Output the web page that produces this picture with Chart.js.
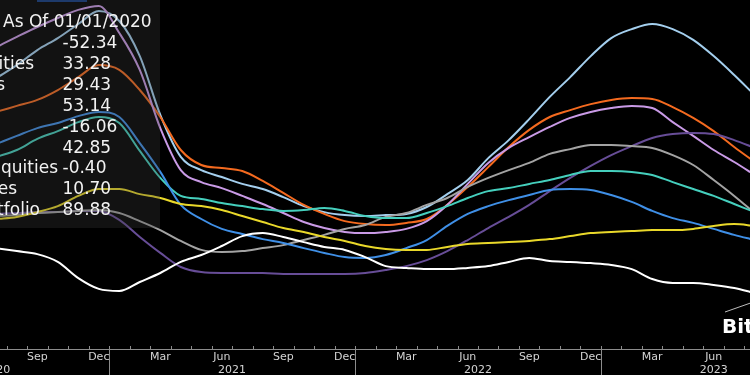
<!DOCTYPE html>
<html><head><meta charset="utf-8">
<script src="https://cdn.jsdelivr.net/npm/chart.js@4/dist/chart.umd.min.js"></script>
<style>html,body{margin:0;padding:0;background:#000;overflow:hidden}canvas{display:block}</style>
</head><body>
<canvas id="c" width="750" height="375"></canvas>
<script>
// ---- data (mid-month observations) ----
const dates = ['2020-07','2020-08','2020-09','2020-10','2020-11','2020-12',
  '2021-01','2021-02','2021-03','2021-04','2021-05','2021-06','2021-07','2021-08','2021-09','2021-10','2021-11','2021-12',
  '2022-01','2022-02','2022-03','2022-04','2022-05','2022-06','2022-07','2022-08','2022-09','2022-10','2022-11','2022-12',
  '2023-01','2023-02','2023-03','2023-04','2023-05','2023-06','2023-07','2023-08'];

const monthNames = ['Jan','Feb','Mar','Apr','May','Jun','Jul','Aug','Sep','Oct','Nov','Dec'];
const tickMonths = ['Mar','Jun','Sep','Dec'];
const yearLabels = ['2020','2021','2022','2023'];

const legendHeader = 'As Of 01/01/2020';
const legendNames = ['', 'ities', 's', '', '', '', 'Equities', 'es', 'tfolio'];
const legendValues = ['-52.34','33.28','29.43','53.14','-16.06','42.85','-0.40','10.70','89.88'];
const calloutLabel = 'Bitcoin';

const lightBlue = [74.0,78.3,83.3,87.3,92.0,96.3,93.0,81.3,61.7,47.7,43.3,41.0,38.7,37.0,34.3,31.3,29.3,28.3,28.0,28.3,28.7,31.0,35.3,40.0,47.3,53.3,60.3,67.7,74.3,81.3,87.3,90.3,92.0,90.3,86.7,81.3,75.0,68.3];
const orange    = [62.7,64.7,66.7,70.0,74.3,78.3,76.7,70.0,61.0,50.0,45.0,44.0,43.0,39.7,35.7,31.7,28.7,26.3,25.3,25.0,25.7,27.0,31.7,37.7,44.3,51.0,56.7,61.0,63.3,65.3,66.7,67.3,67.0,64.3,60.7,56.3,51.0,46.0];
const orchid    = [84.3,87.7,91.0,94.0,96.7,98.0,89.0,76.7,57.3,43.3,39.3,37.3,34.7,32.0,29.0,26.0,24.0,22.7,22.3,22.7,23.7,26.3,31.7,38.7,45.7,50.7,54.3,57.7,60.7,62.7,64.0,64.7,64.0,59.3,54.7,50.0,46.0,41.7];
const darkPurple= [28.7,29.0,29.3,29.3,29.7,29.7,26.7,21.0,15.7,11.0,9.3,9.0,9.0,9.0,8.7,8.7,8.7,8.7,9.0,10.0,11.3,13.3,16.3,20.0,24.0,27.7,31.7,36.3,40.7,44.7,48.3,51.3,54.0,55.3,55.7,55.3,53.3,50.7];
const grey      = [28.0,28.3,29.0,29.3,29.7,30.0,29.0,26.3,23.3,19.7,16.7,16.0,16.3,17.3,18.3,20.0,21.7,23.7,25.0,27.7,29.0,31.7,34.0,37.7,40.7,43.3,45.7,48.7,50.3,51.7,51.7,51.3,50.7,48.3,45.0,40.0,34.7,29.0];
const teal      = [47.7,50.0,53.7,56.3,59.3,61.0,59.0,49.7,40.7,34.7,33.7,32.3,31.3,30.3,29.7,30.0,30.7,29.7,28.0,27.3,27.3,29.0,31.3,34.0,36.3,37.3,38.7,40.0,41.7,43.0,43.0,42.7,41.7,39.3,37.0,34.7,32.0,29.3];
const blue      = [52.0,54.7,57.3,59.0,61.3,62.7,61.0,52.3,42.7,31.7,27.0,23.7,22.0,20.3,19.0,17.3,15.7,14.3,14.0,15.0,17.3,20.0,24.7,28.7,31.3,33.3,35.0,36.7,37.0,36.7,35.0,32.7,29.7,27.3,25.7,23.7,21.7,20.0];
const yellow    = [27.0,27.7,29.3,31.3,34.7,37.0,37.0,35.3,34.0,32.0,31.3,30.0,28.0,26.0,24.0,22.7,21.0,19.7,18.0,17.0,16.7,16.7,17.7,18.7,19.0,19.3,19.7,20.3,21.3,22.3,22.7,23.0,23.3,23.3,23.7,24.7,25.3,24.7];
const white     = [17.3,16.3,15.3,12.7,7.3,3.7,3.0,6.0,9.0,12.7,15.0,18.0,21.3,22.3,21.0,19.3,17.7,16.7,14.3,11.3,10.7,10.3,10.3,10.7,11.3,12.7,14.0,13.0,12.7,12.3,11.7,10.3,7.0,5.7,5.7,5.0,4.0,2.3];

// ---- helpers ----
const xs = dates.map(d => { const [y, m] = d.split('-').map(Number); return (y - 2020) * 12 + (m - 1) + 0.5; });
const pts = arr => arr.map((v, i) => ({ x: xs[i], y: v }));

const series = [
  { data: white,      color: '#ffffff' },
  { data: yellow,     color: '#e9d82a' },
  { data: blue,       color: '#3f8fe6' },
  { data: teal,       color: '#45cfbd' },
  { data: grey,       color: '#a3a3a3' },
  { data: darkPurple, color: '#674d97' },
  { data: orchid,     color: '#c99ae6' },
  { data: orange,     color: '#f46a1f' },
  { data: lightBlue,  color: '#a4cfee' },
];

const AXIS_FONT = '11px "DejaVu Sans"';
const AXIS_COLOR = '#d4d4d4';
const LINE_GREY = '#8c8c8c';

const decor = {
  id: 'decor',
  beforeDraw(chart) {
    const c = chart.ctx;
    c.save(); c.fillStyle = '#000'; c.fillRect(0, 0, chart.width, chart.height); c.restore();
  },
  afterDatasetsDraw(chart) {
    const c = chart.ctx;
    c.save();
    // legend panel
    c.fillStyle = 'rgba(60,60,60,0.3)';
    c.fillRect(0, 0, 160, 228);
    c.fillStyle = '#1d3a6b';
    c.fillRect(37, 0, 50, 2);
    c.font = '17px "DejaVu Sans"';
    c.fillStyle = '#f2f2f2';
    c.textBaseline = 'alphabetic';
    c.textAlign = 'left';
    c.fillText(legendHeader, 3, 27);
    const nameEnds = [0, 34, 5, 0, 0, 0, 58, 17, 40];
    legendValues.forEach((v, i) => {
      const y = 48 + i * 20.9;
      c.textAlign = 'left';
      c.fillText(v, 62.5, y);
      if (legendNames[i]) { c.textAlign = 'right'; c.fillText(legendNames[i], nameEnds[i], y); }
    });
    c.restore();
  },
  afterDraw(chart) {
    const c = chart.ctx, xs = chart.scales.x, area = chart.chartArea;
    const yAxis = area.bottom;
    c.save();
    c.strokeStyle = LINE_GREY; c.lineWidth = 1;
    // month tick marks
    for (let m = Math.ceil(xs.min); m <= xs.max; m++) {
      const px = Math.round(xs.getPixelForValue(m)) + 0.5;
      c.beginPath(); c.moveTo(px, yAxis); c.lineTo(px, yAxis - 3); c.stroke();
    }
    // year separators + labels
    const fullStart = 1, fullEnd = 47;
    c.font = AXIS_FONT; c.fillStyle = AXIS_COLOR; c.textAlign = 'center'; c.textBaseline = 'alphabetic';
    yearLabels.forEach((lab, i) => {
      const ys = i * 12, ye = ys + 12;
      if (i > 0) {
        const px = Math.round(xs.getPixelForValue(ys)) + 0.5;
        c.beginPath(); c.moveTo(px, yAxis); c.lineTo(px, chart.height); c.stroke();
      }
      const center = (Math.max(ys, fullStart) + Math.min(ye, fullEnd)) / 2;
      c.fillText(lab, xs.getPixelForValue(center), 372.5);
    });
    // callout
    c.strokeStyle = '#bdbdbd';
    c.beginPath(); c.moveTo(725, 312); c.lineTo(752, 302.5); c.stroke();
    c.font = 'bold 20px "DejaVu Sans"'; c.fillStyle = '#ffffff'; c.textAlign = 'left';
    c.fillText(calloutLabel, 722, 333);
    c.restore();
  }
};

new Chart(document.getElementById('c'), {
  type: 'line',
  data: {
    datasets: series.map(s => ({
      data: pts(s.data),
      borderColor: s.color,
      borderWidth: 2,
      pointRadius: 0,
      fill: false,
      cubicInterpolationMode: 'monotone',
    }))
  },
  options: {
    responsive: false,
    animation: false,
    devicePixelRatio: 1,
    layout: { padding: 0 },
    plugins: { legend: { display: false }, tooltip: { enabled: false } },
    scales: {
      x: {
        type: 'linear',
        position: 'bottom',
        min: 6.68, max: 43.27,
        grid: { display: false, drawTicks: false },
        border: { display: true, color: LINE_GREY, width: 1 },
        ticks: {
          color: AXIS_COLOR, font: { family: 'DejaVu Sans', size: 11 },
          padding: 2, maxRotation: 0, minRotation: 0, autoSkip: false,
          callback: v => monthNames[((Math.floor(v) % 12) + 12) % 12]
        },
        afterBuildTicks: scale => {
          const t = [];
          for (let m = Math.floor(scale.min); m <= scale.max; m++) {
            const name = monthNames[((m % 12) + 12) % 12];
            if (tickMonths.includes(name) && m + 0.5 >= scale.min && m + 0.5 <= scale.max) t.push({ value: m + 0.5 });
          }
          scale.ticks = t;
        },
        afterFit: scale => { scale.height = 26; }
      },
      y: { display: false, min: -16.33, max: 100 }
    }
  },
  plugins: [decor]
});
</script>
</body></html>
